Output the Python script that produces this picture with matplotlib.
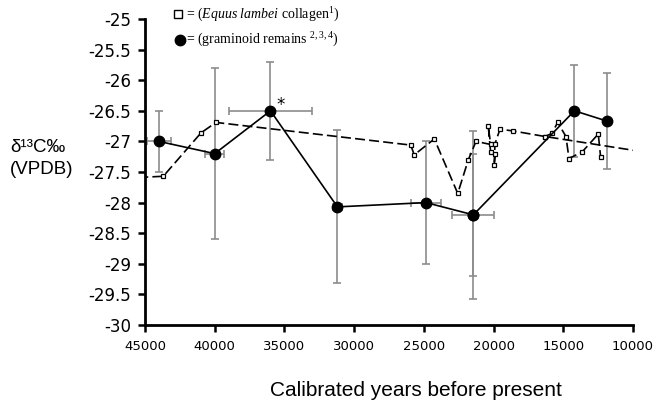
import numpy as np
import matplotlib.pyplot as plt
from matplotlib.lines import Line2D

# Equus lambei colágeno (cuadrados); la serie sigue un poco fuera del eje por ambos lados
equus_edad = [46500, 43690, 40980, 39910, 25940, 25690, 24250, 22570, 21810, 21260,
              20210, 20380, 20210, 19900, 19950, 19900, 19540, 18590, 16310, 9000]
equus_d13c = [-27.60, -27.57, -26.86, -26.69, -27.06, -27.22, -26.96, -27.85, -27.30, -27.00,
              -27.05, -26.75, -27.18, -27.21, -27.39, -27.04, -26.80, -26.83, -26.92, -27.18]
# grupo final de cuadrados
equus_edad2 = [16310, 15830, 15400, 14810, 14590, 13640, 12490, 12320]
equus_d13c2 = [-26.92, -26.87, -26.69, -26.92, -27.28, -27.17, -26.88, -27.26]

# restos de graminoides (círculos con barras de error)
gram_edad = [44000, 40000, 36000, 31200, 24850, 21450, 21450, 14200, 11840]
gram_d13c = [-27.0, -27.2, -26.5, -28.07, -28.0, -28.2, -28.2, -26.5, -26.67]
gram_err_y = [0.5, 1.4, 0.8, 1.25, 1.0, 1.0, 1.37, 0.75, 0.78]
gram_err_x = [850, 700, 3000, 300, 1075, 1500, 0, 0, 0]

xticks = [45000, 40000, 35000, 30000, 25000, 20000, 15000, 10000]
yticks = [-30, -29.5, -29, -28.5, -28, -27.5, -27, -26.5, -26, -25.5, -25]

plt.rcParams['mathtext.fontset'] = 'custom'
plt.rcParams['mathtext.rm'] = 'Liberation Serif'
plt.rcParams['mathtext.it'] = 'Liberation Serif:italic'

W, H = 657, 405
fig = plt.figure(figsize=(W / 100, H / 100), dpi=100)
ax = fig.add_axes([145 / W, 1 - 325 / H, 488 / W, 306 / H])

def px(x, y):
    return x / W, 1 - y / H

# barras de error
ax.errorbar(gram_edad, gram_d13c, yerr=gram_err_y, xerr=gram_err_x, fmt='none',
            ecolor='#8c8c8c', elinewidth=1.2, capsize=3, capthick=1.2, zorder=1)

# cuadrados
ax.plot(equus_edad, equus_d13c, color='black', lw=1.2, linestyle=(0, (6, 2.5)),
        marker='s', markersize=3.2, markerfacecolor='white', markeredgecolor='black',
        markeredgewidth=0.9, zorder=2)
ax.plot(equus_edad2, equus_d13c2, color='black', lw=1.2, linestyle=(0, (6, 2.5)),
        marker='s', markersize=3.2, markerfacecolor='white', markeredgecolor='black',
        markeredgewidth=0.9, zorder=2)

# círculos
ax.plot(gram_edad, gram_d13c, color='black', lw=1.2, marker='o', markersize=7.5, zorder=3)

ax.annotate('*', xy=(gram_edad[2], gram_d13c[2]), xytext=(7, 4), textcoords='offset points',
            fontsize=12, ha='center', va='center')

ax.set_xlim(45000, 10000)
ax.set_ylim(-30, -25)
ax.set_xticks(xticks)
ax.set_xticklabels([str(t) for t in xticks])
ax.set_yticks(yticks)
ax.set_yticklabels(['%g' % t for t in yticks])
ax.tick_params(axis='both', direction='out', length=5, width=1.8)
ax.tick_params(axis='y', labelsize=12, pad=5)
ax.tick_params(axis='x', labelsize=9.5, pad=6)
for s in ['top', 'right']:
    ax.spines[s].set_visible(False)
for s in ['left', 'bottom']:
    ax.spines[s].set_linewidth(2)

# leyenda a mano
fig.add_artist(Line2D([px(178, 14)[0]], [px(178, 14)[1]], marker='s', markersize=5.5,
                      markerfacecolor='white', markeredgecolor='black', markeredgewidth=1))
fig.add_artist(Line2D([px(180, 40)[0]], [px(180, 40)[1]], marker='o', markersize=7.5,
                      color='black'))
fig.text(*px(186, 15), r'= ($\mathit{Equus\ lambei}$ collagen$^{1}$)',
         family='Liberation Serif', fontsize=10, va='center', ha='left')
fig.text(*px(186, 40), r'= (graminoid remains $^{2,3,4}$)',
         family='Liberation Serif', fontsize=10, va='center', ha='left')

fig.text(*px(10, 147), 'δ¹³C‰', family=['Liberation Sans', 'DejaVu Sans'],
         fontsize=13.5, va='center', ha='left')
fig.text(*px(10, 170), '(VPDB)', family=['Liberation Sans', 'DejaVu Sans'],
         fontsize=13.5, va='center', ha='left')
fig.text(*px(416, 390), 'Calibrated years before present', family='Liberation Sans',
         fontsize=15, va='center', ha='center')

fig.savefig('out.png', dpi=100)
